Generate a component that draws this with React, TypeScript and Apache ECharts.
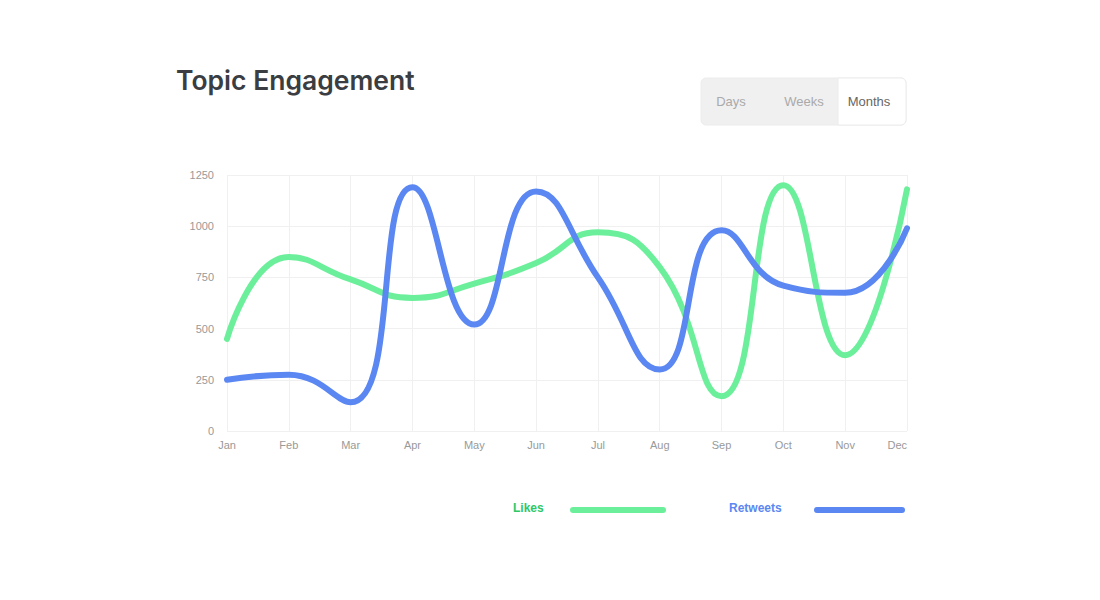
import React, { useEffect, useRef } from "react";
import * as echarts from "echarts";

const months = ["Jan", "Feb", "Mar", "Apr", "May", "Jun", "Jul", "Aug", "Sep", "Oct", "Nov", "Dec"];
const likes = [450, 850, 740, 650, 720, 820, 970, 800, 170, 1200, 370, 1180];
const retweets = [250, 275, 140, 1190, 520, 1170, 750, 300, 980, 710, 675, 990];
const periods = ["Days", "Weeks", "Months"];
const seriesNames = ["Likes", "Retweets"];

const GREEN = "#6cef9b";
const BLUE = "#5b87f2";
const TITLE_FONT = "Inter, 'Noto Sans', sans-serif";
const FONT = "'Liberation Sans', Arial, sans-serif";

export default function App() {
  const ref = useRef<HTMLDivElement>(null);
  useEffect(() => {
    if (!ref.current) return;
    const chart = echarts.init(ref.current, undefined, { renderer: "svg" });
    const btnX = 701, btnY = 78, btnW = 205, btnH = 47;
    const graphics: any[] = [
      { type: "text", left: 176, top: 66, style: { text: "Topic Engagement", fill: "#3a3d42", font: `600 26.5px ${TITLE_FONT}` } },
      { type: "rect", shape: { x: btnX, y: btnY, width: btnW, height: btnH, r: 5 }, style: { fill: "#f0f0f0", stroke: "#ececec", lineWidth: 1 } },
      { type: "rect", shape: { x: 838, y: btnY, width: 68, height: btnH, r: [0, 5, 5, 0] }, style: { fill: "#ffffff", stroke: "#ececec", lineWidth: 1 } },
    ];
    const centers = [731, 804, 869];
    periods.forEach((p, i) => {
      graphics.push({
        type: "text",
        x: centers[i],
        y: btnY + btnH / 2,
        style: { text: p, fill: i === 2 ? "#666666" : "#aaaaaa", font: `13px ${FONT}`, align: "center", verticalAlign: "middle" },
      });
    });
    const legendPos = [
      { tx: 513, lx1: 573, lx2: 663, text: "#2ec866", line: GREEN },
      { tx: 729, lx1: 817, lx2: 902, text: "#5b87f2", line: BLUE },
    ];
    seriesNames.forEach((n, i) => {
      const p = legendPos[i];
      graphics.push({
        type: "text",
        x: p.tx,
        y: 508,
        style: { text: n, fill: p.text, font: `bold 12px ${FONT}`, verticalAlign: "middle" },
      });
      graphics.push({
        type: "line",
        shape: { x1: p.lx1, y1: 510, x2: p.lx2, y2: 510 },
        style: { stroke: p.line, lineWidth: 6, lineCap: "round" },
      });
    });
    chart.setOption({
      animation: false,
      textStyle: { fontFamily: FONT },
      grid: { left: 227, right: 193, top: 175, bottom: 169, containLabel: false },
      graphic: graphics,
      xAxis: {
        type: "category",
        data: months,
        boundaryGap: false,
        axisLine: { show: false },
        axisTick: { show: false },
        axisLabel: { color: "#999999", fontSize: 11, margin: 8, alignMaxLabel: "right", fontFamily: FONT },
        splitLine: { show: true, lineStyle: { color: "#f0f0f0" } },
      },
      yAxis: {
        type: "value",
        min: 0,
        max: 1250,
        interval: 250,
        axisLine: { show: false },
        axisTick: { show: false },
        axisLabel: { color: "#999999", fontSize: 11, margin: 13, fontFamily: FONT, formatter: (v: number) => String(v) },
        splitLine: { show: true, lineStyle: { color: "#f0f0f0" } },
      },
      series: [
        {
          name: seriesNames[0],
          type: "line",
          data: likes,
          smooth: 0.5,
          symbol: "none",
          itemStyle: { color: GREEN },
          lineStyle: { color: GREEN, width: 6, cap: "round" },
        },
        {
          name: seriesNames[1],
          type: "line",
          data: retweets,
          smooth: 0.5,
          symbol: "none",
          itemStyle: { color: BLUE },
          lineStyle: { color: BLUE, width: 6, cap: "round" },
        },
      ],
    });
    return () => chart.dispose();
  }, []);
  return <div ref={ref} style={{ width: 1100, height: 600, position: "absolute", left: 0, top: 0 }} />;
}
